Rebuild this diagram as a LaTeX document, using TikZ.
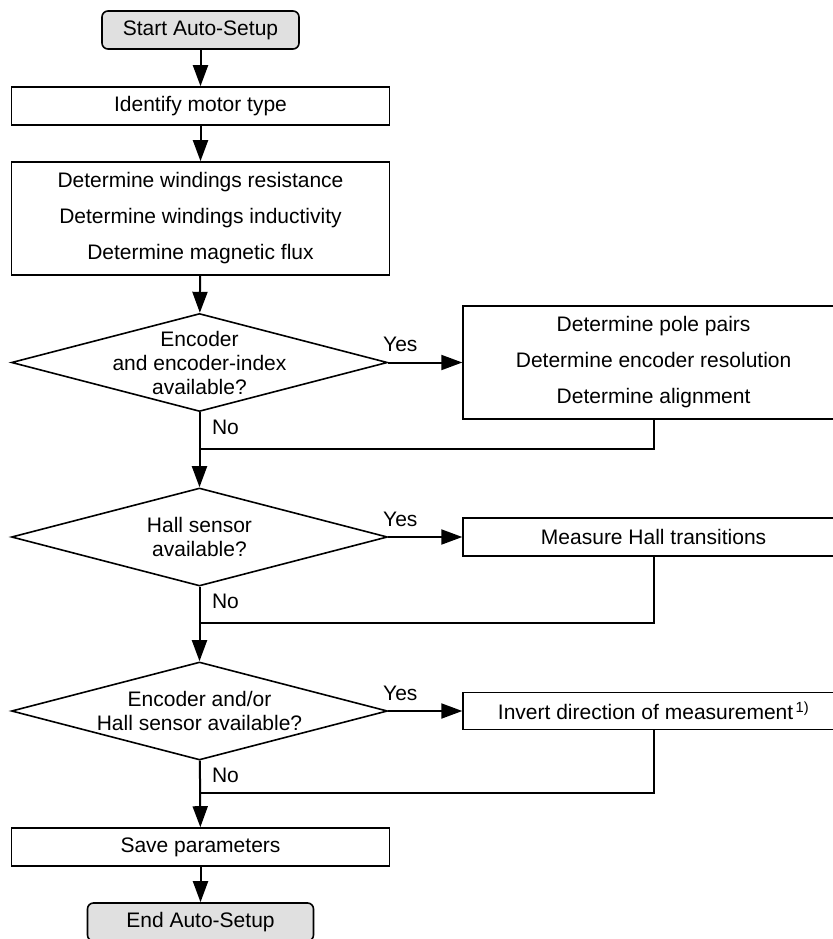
\documentclass[tikz,border=0pt]{standalone}
\usepackage{fontspec}
\setmainfont{Liberation Sans}
\usetikzlibrary{shapes.geometric,arrows.meta,positioning,calc}
\definecolor{termgray}{HTML}{E0E0E0}

\tikzset{
	terminal/.style={draw, line width=1.6pt, rounded corners=6pt, fill=termgray, minimum height=38pt, inner sep=0pt, font=\fontsize{21}{36}\selectfont},
	process/.style={draw, line width=1.6pt, minimum width=378pt, inner sep=0pt, align=center, font=\fontsize{21}{36}\selectfont},
	decision/.style={draw, diamond, line width=1.6pt, minimum width=376pt, minimum height=98pt, inner sep=0pt},
	qtext/.style={align=center, inner sep=0pt, font=\fontsize{21}{24}\selectfont},
	lbl/.style={inner sep=0pt, font=\fontsize{21}{24}\selectfont},
	flow/.style={line width=2pt, -{Triangle[length=21pt,width=15pt]}},
	backline/.style={line width=2pt},
}

\begin{document}
\begin{tikzpicture}[x=1pt,y=-1pt]
		\useasboundingbox (0,0) rectangle (832,939);
		\node[terminal, minimum width=197pt] (start) at (200.5,30) {Start Auto-Setup};
		\node[process, minimum height=38pt] (ident) at (200.5,106) {Identify motor type};
		\node[process, minimum height=113pt] (det) at (200.5,218.5) {Determine windings resistance\\Determine windings inductivity\\Determine magnetic flux};
		\node[decision] (q1) at (199.5,362.5) {};
		\node[qtext] (q1t) at (q1) {Encoder\\and encoder-index\\available?};
		\node[process, minimum width=381pt, minimum height=113pt, right=74pt of q1] (pole) {Determine pole pairs\\Determine encoder resolution\\Determine alignment};
		\node[decision] (q2) at (199.5,537) {};
		\node[qtext] (q2t) at (q2) {Hall sensor\\available?};
		\node[process, minimum width=381pt, minimum height=38pt, right=74pt of q2] (hall) {Measure Hall transitions};
		\node[decision] (q3) at (199.5,711) {};
		\node[qtext] (q3t) at (q3) {Encoder and/or\\Hall sensor available?};
		\node[process, minimum width=381pt, minimum height=37pt, right=74pt of q3] (inv) {Invert direction of measurement\textsuperscript{\,1)}};
		\node[process, minimum height=38pt] (save) at (200.5,847) {Save parameters};
		\node[terminal, minimum width=226pt] (stop) at (200.5,922) {End Auto-Setup};
		%
		\coordinate (m1) at ($(q1.south)+(0,37)$);
		\coordinate (m2) at ($(q2.south)+(0,36)$);
		\coordinate (m3) at ($(q3.south)+(0,32)$);
		\node[lbl] (yes1) at ($(q1.east)+(12,-18)$) {Yes};
		\node[lbl] (yes2) at ($(q2.east)+(12,-18)$) {Yes};
		\node[lbl] (yes3) at ($(q3.east)+(12,-18)$) {Yes};
		\node[lbl] (no1) at ($(q1.south)+(26,15)$) {No};
		\node[lbl] (no2) at ($(q2.south)+(26,15)$) {No};
		\node[lbl] (no3) at ($(q3.south)+(26,15)$) {No};
		%
		\draw[flow] (start) -- (ident);
		\draw[flow] (ident) -- (det);
		\draw[flow] (det) -- (q1);
		\draw[flow] (q1) -- (pole);
		\draw[flow] (q1) -- (q2);
		\draw[backline] (pole.south) |- (m1);
		\draw[flow] (q2) -- (hall);
		\draw[flow] (q2) -- (q3);
		\draw[backline] (hall.south) |- (m2);
		\draw[flow] (q3) -- (inv);
		\draw[flow] (q3) -- (save);
		\draw[backline] (inv.south) |- (m3);
		\draw[flow] (save) -- (stop);
\end{tikzpicture}
\end{document}
